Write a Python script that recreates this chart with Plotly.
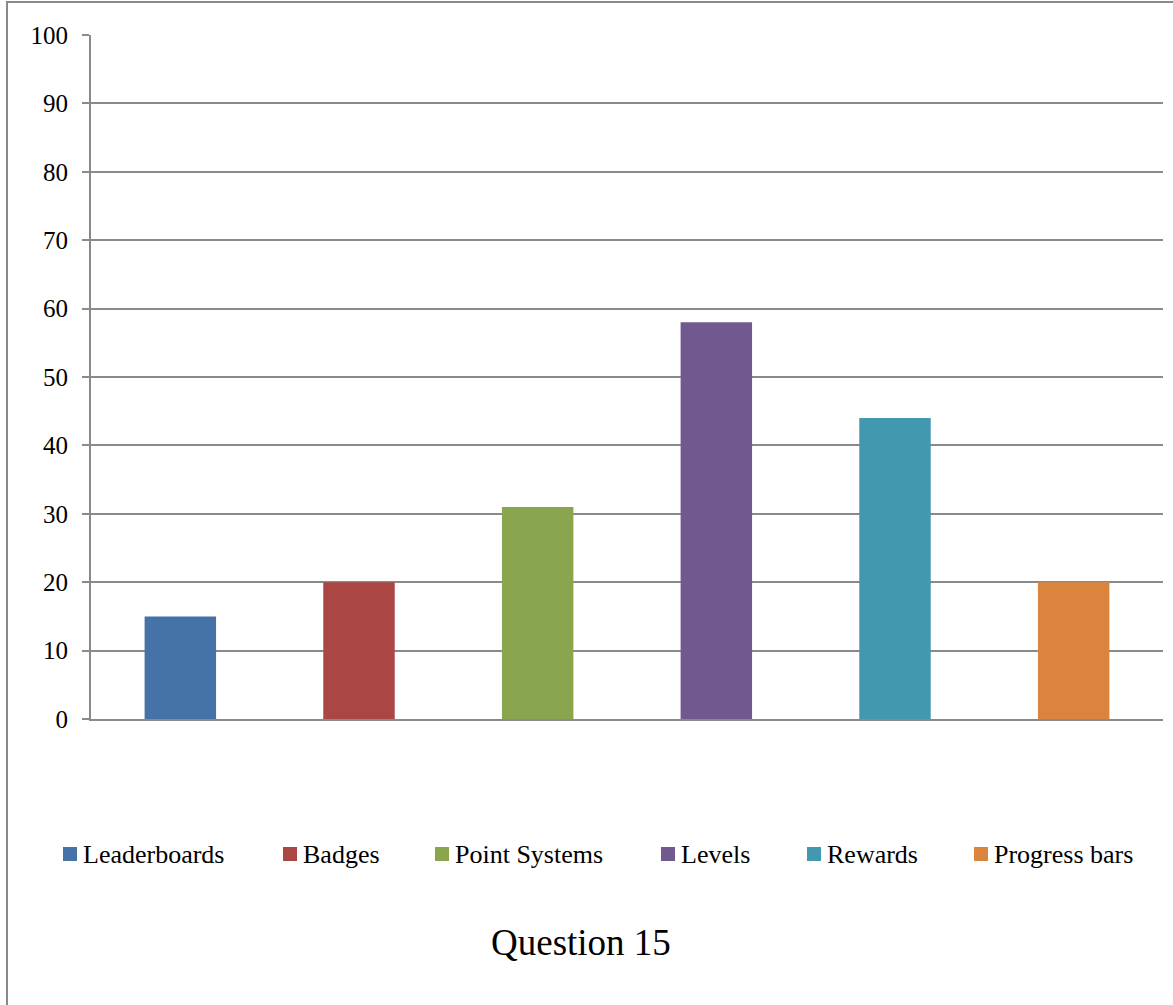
import plotly.graph_objects as go

# Survey results for question 15: one series per game element
categories = ["Leaderboards", "Badges", "Point Systems", "Levels", "Rewards", "Progress bars"]
values = [15, 20, 31, 58, 44, 20]
colors = ["#4572A7", "#AA4643", "#89A54E", "#71588F", "#4198AF", "#DB843D"]
y_ticks = [0, 10, 20, 30, 40, 50, 60, 70, 80, 90, 100]

GRID = "#8a8a8a"
FONT = "Liberation Serif, Times New Roman, serif"

W, H = 1173, 1005
L, R, T, B = 91, 10, 35, 286
pw, ph = W - L - R, H - T - B


def px_x(x):
    return (x - L) / pw


def px_y(y):
    return (ph - (y - T)) / ph


fig = go.Figure()
for i, (name, val, col) in enumerate(zip(categories, values, colors)):
    fig.add_trace(go.Bar(
        x=[i], y=[val], name=name, width=0.4, showlegend=False,
        marker=dict(color=col, line=dict(width=0)),
    ))

fig.update_layout(
    width=W, height=H,
    margin=dict(l=L, r=R, t=T, b=B),
    paper_bgcolor="white", plot_bgcolor="white",
    barmode="overlay",
    font=dict(family=FONT, color="black"),
    xaxis=dict(
        range=[-0.5, 5.5], showticklabels=False, ticks="",
        showgrid=False, zeroline=False,
        showline=True, linecolor=GRID, linewidth=2,
    ),
    yaxis=dict(
        range=[0, 100], tickvals=y_ticks,
        showgrid=True, gridcolor=GRID, gridwidth=2,
        zeroline=False,
        showline=True, linecolor=GRID, linewidth=2,
        ticks="outside", ticklen=7, tickcolor=GRID, tickwidth=2,
        ticklabelstandoff=9,
        tickfont=dict(family=FONT, size=25, color="black"),
    ),
    showlegend=False,
)

# Legend row below the plot: colour key + series name
legend_left = [63, 283, 435, 661, 807, 974]
legend_y = 854
for name, col, x0 in zip(categories, colors, legend_left):
    fig.add_shape(
        type="rect", xref="paper", yref="paper",
        x0=px_x(x0), x1=px_x(x0 + 14),
        y0=px_y(legend_y + 7), y1=px_y(legend_y - 7),
        fillcolor=col, line=dict(width=0),
    )
    fig.add_annotation(
        text=name, xref="paper", yref="paper",
        x=px_x(x0 + 18), y=px_y(legend_y + 1),
        xanchor="left", yanchor="middle", showarrow=False,
        font=dict(family=FONT, size=26, color="black"),
    )

fig.add_annotation(
    text="Question 15", xref="paper", yref="paper",
    x=px_x(581), y=px_y(942),
    xanchor="center", yanchor="middle", showarrow=False,
    font=dict(family=FONT, size=37, color="black"),
)

# Chart-area frame around the whole figure
fig.add_shape(
    type="rect", xref="paper", yref="paper",
    x0=px_x(7), x1=px_x(W + 5),
    y0=px_y(H + 5), y1=px_y(2),
    line=dict(color=GRID, width=2), fillcolor="rgba(0,0,0,0)", layer="below",
)

fig.write_html("out.html")
